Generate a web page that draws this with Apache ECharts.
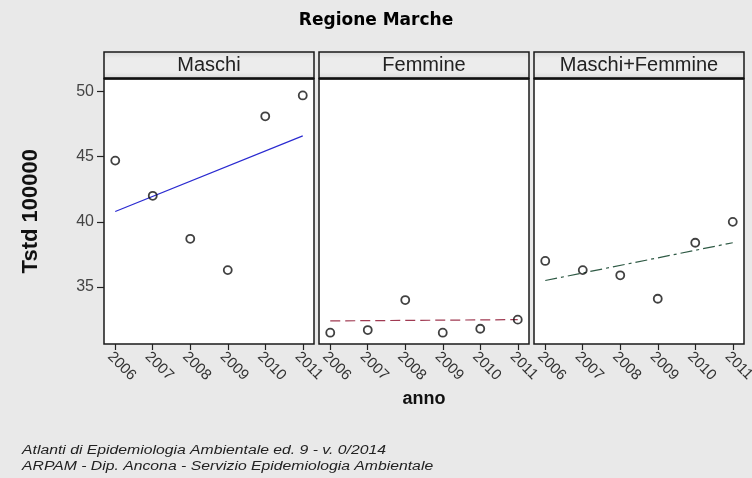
<!DOCTYPE html>
<html>
<head>
<meta charset="utf-8">
<script src="https://cdn.jsdelivr.net/npm/echarts@6/dist/echarts.min.js"></script>
<style>
html,body{margin:0;padding:0;background:#e9e9e9;}
#chart{width:752px;height:478px;}
</style>
</head>
<body>
<div id="chart"></div>
<script>
// ---- data ----
var years = [2006, 2007, 2008, 2009, 2010, 2011];
var panelTitles = ['Maschi', 'Femmine', 'Maschi+Femmine'];
var maschi = [44.7, 42.0, 38.7, 36.3, 48.1, 49.7];
var femmine = [31.5, 31.7, 34.0, 31.5, 31.8, 32.5];
var maschiFemmine = [37.0, 36.3, 35.9, 34.1, 38.4, 40.0];
var trendYears = [2006, 2011];
var maschiTrend = [40.8, 46.6];
var femmineTrend = [32.4, 32.5];
var maschiFemmineTrend = [35.5, 38.4];
var yTicks = [35, 40, 45, 50];

var seriesValues = [maschi, femmine, maschiFemmine];
var trendValues = [maschiTrend, femmineTrend, maschiFemmineTrend];
var trendStyles = [
  {color: '#2a2ad0', type: 'solid', width: 1.2},
  {color: '#a03a52', type: [10, 5], width: 1.2},
  {color: '#2f5a45', type: [12, 4, 3, 4], width: 1.2}
];

var lefts = [104, 319, 534];
var panelW = 210;
var stripTop = 52, stripH = 26.5, plotTop = 78.5, plotH = 265.5;

var grids = [], xAxes = [], yAxes = [], series = [], graphics = [];
for (var i = 0; i < 3; i++) {
  grids.push({left: lefts[i], top: plotTop, width: panelW, height: plotH,
    show: true, backgroundColor: '#ffffff', borderColor: '#1a1a1a', borderWidth: 1.5,
    containLabel: false, outerBoundsMode: 'none'});
  xAxes.push({type: 'value', gridIndex: i, min: 2005.7, max: 2011.3,
    axisLine: {show: false}, splitLine: {show: false},
    axisTick: {show: true, inside: false, length: 6, customValues: years, lineStyle: {color: '#222', width: 1.2}},
    axisLabel: {show: true, customValues: years, rotate: -45, margin: 5, verticalAlign: 'top', color: '#333',
      fontFamily: 'Liberation Sans, Arial', fontSize: 15, formatter: function (v) { return String(v); }},
    name: i === 1 ? 'anno' : '', nameLocation: 'middle', nameGap: 46,
    nameTextStyle: {fontFamily: 'Liberation Sans, Arial', fontWeight: 'bold', fontSize: 18, color: '#111', verticalAlign: 'middle'}
  });
  yAxes.push({type: 'value', gridIndex: i, min: 30.63, max: 51.0,
    axisLine: {show: false}, splitLine: {show: false},
    axisTick: {show: i === 0, length: 7, customValues: yTicks, lineStyle: {color: '#222', width: 1.2}},
    axisLabel: {show: i === 0, customValues: yTicks, margin: 10, color: '#444',
      fontFamily: 'Liberation Sans, Arial', fontSize: 16},
    name: i === 0 ? 'Tstd 100000' : '', nameLocation: 'middle', nameGap: 62,
    nameTextStyle: {fontFamily: 'Liberation Sans, Arial', fontWeight: 'bold', fontSize: 22, color: '#111'}
  });
  series.push({type: 'scatter', xAxisIndex: i, yAxisIndex: i,
    data: years.map(function (y, k) { return [y, seriesValues[i][k]]; }),
    symbol: 'circle', symbolSize: 8,
    itemStyle: {color: 'rgba(255,255,255,0)', borderColor: '#111', borderWidth: 1.8},
    z: 3
  });
  series.push({type: 'line', xAxisIndex: i, yAxisIndex: i,
    data: trendYears.map(function (y, k) { return [y, trendValues[i][k]]; }),
    showSymbol: false, lineStyle: trendStyles[i], z: 2
  });
  graphics.push({type: 'rect', shape: {x: lefts[i], y: stripTop, width: panelW, height: stripH},
    style: {fill: new echarts.graphic.LinearGradient(0, 0, 0, 1, [
      {offset: 0, color: '#d9d9d9'}, {offset: 0.25, color: '#ececec'}, {offset: 0.75, color: '#ececec'}, {offset: 1, color: '#d6d6d6'}]),
      stroke: '#1a1a1a', lineWidth: 1.5}});
  graphics.push({type: 'line', shape: {x1: lefts[i], y1: plotTop, x2: lefts[i] + panelW, y2: plotTop},
    style: {stroke: '#111', lineWidth: 2.5}});
  graphics.push({type: 'text', x: lefts[i] + panelW / 2, y: stripTop + stripH / 2,
    style: {text: panelTitles[i], fill: '#222', font: '20px "Liberation Sans", Arial', align: 'center', verticalAlign: 'middle'}});
}
graphics.push({type: 'text', x: 22, y: 444, scaleX: 1.26,
  style: {text: 'Atlanti di Epidemiologia Ambientale ed. 9 - v. 0/2014', fill: '#222', font: 'italic 12.5px "Liberation Sans", Arial'}});
graphics.push({type: 'text', x: 22, y: 460, scaleX: 1.26,
  style: {text: 'ARPAM - Dip. Ancona - Servizio Epidemiologia Ambientale', fill: '#222', font: 'italic 12.5px "Liberation Sans", Arial'}});

var chart = echarts.init(document.getElementById('chart'), null, {renderer: 'canvas'});
chart.setOption({
  backgroundColor: '#e9e9e9',
  animation: false,
  title: {text: 'Regione Marche', left: 'center', top: 7,
    textStyle: {fontFamily: 'DejaVu Sans', fontWeight: 'bold', fontSize: 17, color: '#000'}},
  grid: grids, xAxis: xAxes, yAxis: yAxes, series: series, graphic: graphics
});
</script>
</body>
</html>
